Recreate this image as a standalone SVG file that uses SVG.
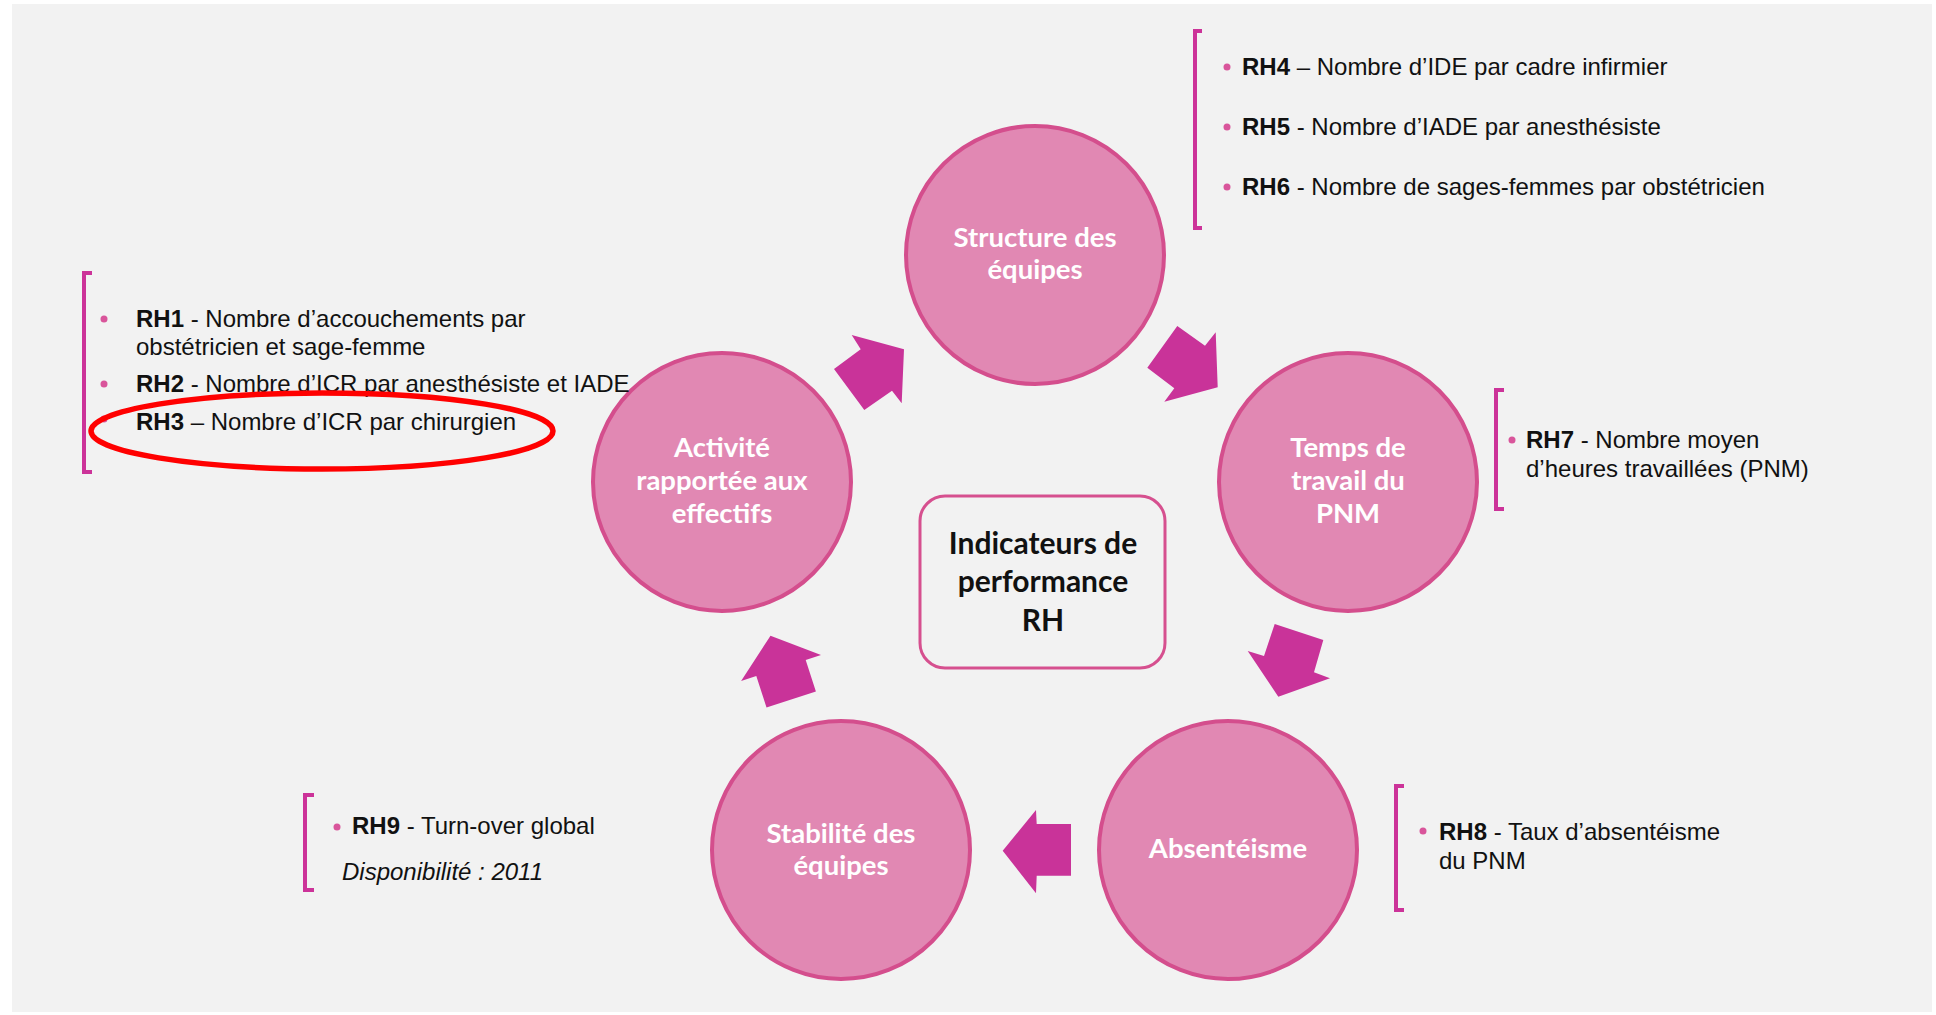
<svg xmlns="http://www.w3.org/2000/svg" width="1936" height="1015" viewBox="0 0 1936 1015">
<style>
.bg{fill:#f2f2f2}
.circ{fill:#e188b3;stroke:#d44e8d;stroke-width:4}
.ctext{font-family:Lato,"Open Sans",sans-serif;font-weight:700;font-size:27.5px;fill:#ffffff;text-anchor:middle}
.btext{font-family:Lato,"Open Sans",sans-serif;font-weight:700;font-size:30px;fill:#111111;text-anchor:middle}
.arrow{fill:#c93399}
.brk{fill:none;stroke:#cc3399;stroke-width:4}
.dot{fill:#d9559b}
.t{font-family:"Liberation Sans",Arial,sans-serif;font-size:24px;fill:#111111}
.b{font-weight:700}
.it{font-style:italic}
</style>
<rect width="1936" height="1015" fill="#ffffff"/>
<rect class="bg" x="12" y="4" width="1920" height="1008"/>

<g id="connectors">
<polygon class="arrow" points="851.7,335 904,349.3 901.7,403.3 892,390.7 864.3,410 834,369 860.7,349.3"/>
<polygon class="arrow" points="1177.3,326 1205,345.7 1215.7,332.3 1217.7,387.3 1164.3,401.7 1174.3,388.3 1147.3,367.7"/>
<polygon class="arrow" points="1274.7,624 1323.3,640 1314,672.3 1330,678.3 1278.3,696.7 1247.7,651 1264,656"/>
<polygon class="arrow" points="1036,810 1036.7,824 1071,824 1071,875.7 1036.7,875.7 1036,893.3 1002.7,850.7"/>
<polygon class="arrow" points="770.5,635.7 821,655 805.7,660 815.9,691.4 766.5,707.4 756.3,676 741.1,681"/>
</g>

<g id="node-structure">
<circle class="circ" cx="1035" cy="255" r="129"/>
<text class="ctext" x="1035" y="247">Structure des</text>
<text class="ctext" x="1035" y="279">équipes</text>
</g>
<g id="node-temps">
<circle class="circ" cx="1348" cy="482" r="129"/>
<text class="ctext" x="1348" y="457">Temps de</text>
<text class="ctext" x="1348" y="490">travail du</text>
<text class="ctext" x="1348" y="523">PNM</text>
</g>
<g id="node-absenteisme">
<circle class="circ" cx="1228" cy="850" r="129"/>
<text class="ctext" x="1228" y="858">Absentéisme</text>
</g>
<g id="node-stabilite">
<circle class="circ" cx="841" cy="850" r="129"/>
<text class="ctext" x="841" y="843">Stabilité des</text>
<text class="ctext" x="841" y="875">équipes</text>
</g>
<g id="node-activite">
<circle class="circ" cx="722" cy="482" r="129"/>
<text class="ctext" x="722" y="457">Activité</text>
<text class="ctext" x="722" y="490">rapportée aux</text>
<text class="ctext" x="722" y="523">effectifs</text>
</g>
<g id="node-center">
<rect x="920" y="496" width="245" height="172" rx="25" fill="#f2f2f2" stroke="#d6508f" stroke-width="3"/>
<text class="btext" x="1043" y="554">Indicateurs de</text>
<text class="btext" x="1043" y="592">performance</text>
<text class="btext" x="1043" y="631">RH</text>
</g>

<g id="list-rh1-3">
<path class="brk" d="M92,273 H84 V472 H92"/>
<circle class="dot" cx="104" cy="319" r="3.5"/>
<circle class="dot" cx="104" cy="384" r="3.5"/>
<circle class="dot" cx="104" cy="419" r="3.5"/>
<text class="t" x="136" y="327"><tspan class="b">RH1</tspan> - Nombre d’accouchements par</text>
<text class="t" x="136" y="355">obstétricien et sage-femme</text>
<text class="t" x="136" y="392"><tspan class="b">RH2</tspan> - Nombre d’ICR par anesthésiste et IADE</text>
<text class="t" x="136" y="430"><tspan class="b">RH3</tspan> – Nombre d’ICR par chirurgien</text>
<ellipse cx="322" cy="431" rx="231" ry="38" fill="none" stroke="#ff0000" stroke-width="5.5"/>
</g>

<g id="list-rh4-6">
<path class="brk" d="M1202,31 H1195 V228 H1202"/>
<circle class="dot" cx="1227" cy="67" r="3.5"/>
<circle class="dot" cx="1227" cy="127" r="3.5"/>
<circle class="dot" cx="1227" cy="187" r="3.5"/>
<text class="t" x="1242" y="75"><tspan class="b">RH4</tspan> – Nombre d’IDE par cadre infirmier</text>
<text class="t" x="1242" y="135"><tspan class="b">RH5</tspan> - Nombre d’IADE par anesthésiste</text>
<text class="t" x="1242" y="195"><tspan class="b">RH6</tspan> - Nombre de sages-femmes par obstétricien</text>
</g>

<g id="list-rh7">
<path class="brk" d="M1504,390 H1496 V509 H1504"/>
<circle class="dot" cx="1512" cy="440" r="3.5"/>
<text class="t" x="1526" y="448"><tspan class="b">RH7</tspan> - Nombre moyen</text>
<text class="t" x="1526" y="477">d’heures travaillées (PNM)</text>
</g>

<g id="list-rh8">
<path class="brk" d="M1404,786 H1396 V910 H1404"/>
<circle class="dot" cx="1423" cy="831" r="3.5"/>
<text class="t" x="1439" y="840"><tspan class="b">RH8</tspan> - Taux d’absentéisme</text>
<text class="t" x="1439" y="869">du PNM</text>
</g>

<g id="list-rh9">
<path class="brk" d="M314,795 H305 V890 H314"/>
<circle class="dot" cx="337" cy="827" r="3.5"/>
<text class="t" x="352" y="834"><tspan class="b">RH9</tspan> - Turn-over global</text>
<text class="t it" x="342" y="880">Disponibilité : 2011</text>
</g>
</svg>
